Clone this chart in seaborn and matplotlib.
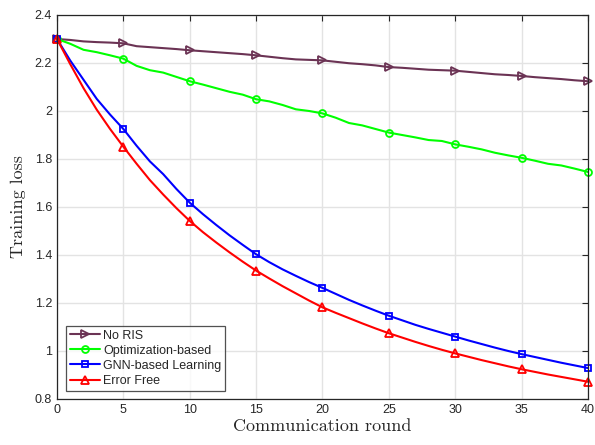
import numpy as np
import matplotlib
matplotlib.use("Agg")
import matplotlib.pyplot as plt
import seaborn as sns

rounds = list(range(41))

no_ris = [2.300, 2.296, 2.290, 2.287, 2.285, 2.282, 2.270, 2.266, 2.262, 2.258,
          2.253, 2.249, 2.245, 2.241, 2.237, 2.232, 2.226, 2.220, 2.215, 2.213,
          2.211, 2.205, 2.199, 2.195, 2.190, 2.183, 2.180, 2.176, 2.172, 2.170,
          2.168, 2.163, 2.158, 2.153, 2.150, 2.146, 2.141, 2.137, 2.133, 2.128,
          2.124]
optimization = [2.300, 2.280, 2.255, 2.245, 2.232, 2.218, 2.188, 2.170, 2.160, 2.142,
                2.124, 2.110, 2.095, 2.080, 2.068, 2.049, 2.040, 2.025, 2.007, 2.000,
                1.990, 1.972, 1.950, 1.940, 1.925, 1.910, 1.900, 1.890, 1.879, 1.875,
                1.861, 1.851, 1.840, 1.826, 1.815, 1.805, 1.793, 1.780, 1.773, 1.760,
                1.746]
gnn = [2.300, 2.210, 2.130, 2.050, 1.985, 1.925, 1.855, 1.790, 1.737, 1.675,
       1.618, 1.570, 1.525, 1.482, 1.442, 1.403, 1.370, 1.340, 1.313, 1.287,
       1.263, 1.238, 1.213, 1.190, 1.168, 1.147, 1.128, 1.109, 1.092, 1.076,
       1.060, 1.044, 1.029, 1.014, 1.000, 0.987, 0.975, 0.963, 0.951, 0.940,
       0.929]
error_free = [2.300, 2.195, 2.095, 2.005, 1.925, 1.851, 1.780, 1.712, 1.652, 1.595,
              1.542, 1.495, 1.452, 1.411, 1.372, 1.335, 1.302, 1.270, 1.240, 1.210,
              1.182, 1.159, 1.137, 1.115, 1.094, 1.074, 1.056, 1.038, 1.021, 1.005,
              0.990, 0.976, 0.962, 0.949, 0.936, 0.924, 0.913, 0.902, 0.892, 0.882,
              0.872]

labels = ["No RIS", "Optimization-based", "GNN-based Learning", "Error Free"]
colors = ["#6b3354", "#00ff00", "#0000ff", "#ff0000"]
markers = [">", "o", "s", "^"]
x_ticks = list(range(0, 41, 5))
y_ticks = [0.8, 1.0, 1.2, 1.4, 1.6, 1.8, 2.0, 2.2, 2.4]

sns.set_style("white")
plt.rcParams["font.family"] = ["Liberation Sans", "DejaVu Sans"]

fig = plt.figure(figsize=(5.95, 4.45), dpi=100)
ax = fig.add_axes([0.0958, 0.1034, 0.8922, 0.8629])

series = [no_ris, optimization, gnn, error_free]
sizes = [5.5, 5.0, 4.0, 5.8]
for vals, lab, c, m, ms in zip(series, labels, colors, markers, sizes):
    sns.lineplot(x=rounds, y=vals, ax=ax, color=c, marker=m, markevery=5,
                 markersize=ms, markerfacecolor="none", markeredgecolor=c,
                 markeredgewidth=1.3, linewidth=1.5, label=lab, clip_on=False)

ax.set_xlim(0, 40)
ax.set_ylim(0.8, 2.4)
ax.set_xticks(x_ticks)
ax.set_yticks(y_ticks)
ax.set_yticklabels([f"{v:g}" for v in y_ticks])
ax.grid(True, color="#e3e3e3", linewidth=1.0)
ax.set_axisbelow(True)
ax.tick_params(direction="in", top=True, right=True, length=4,
               labelsize=9, colors="#262626")
for sp in ax.spines.values():
    sp.set_color("#262626")
    sp.set_linewidth(0.9)

ax.set_xlabel("Communication round", fontfamily="cmr10", fontsize=13, labelpad=2)
ax.set_ylabel("Training loss", fontfamily="cmr10", fontsize=13, labelpad=6)

leg = ax.legend(loc="lower left", bbox_to_anchor=(0.012, 0.015), fontsize=9,
                frameon=True, fancybox=False, edgecolor="#262626",
                handlelength=2.4, handletextpad=0.3, borderpad=0.3,
                labelspacing=0.25, borderaxespad=0.2)
leg.get_frame().set_linewidth(0.9)

fig.savefig("out.png", dpi=100)
